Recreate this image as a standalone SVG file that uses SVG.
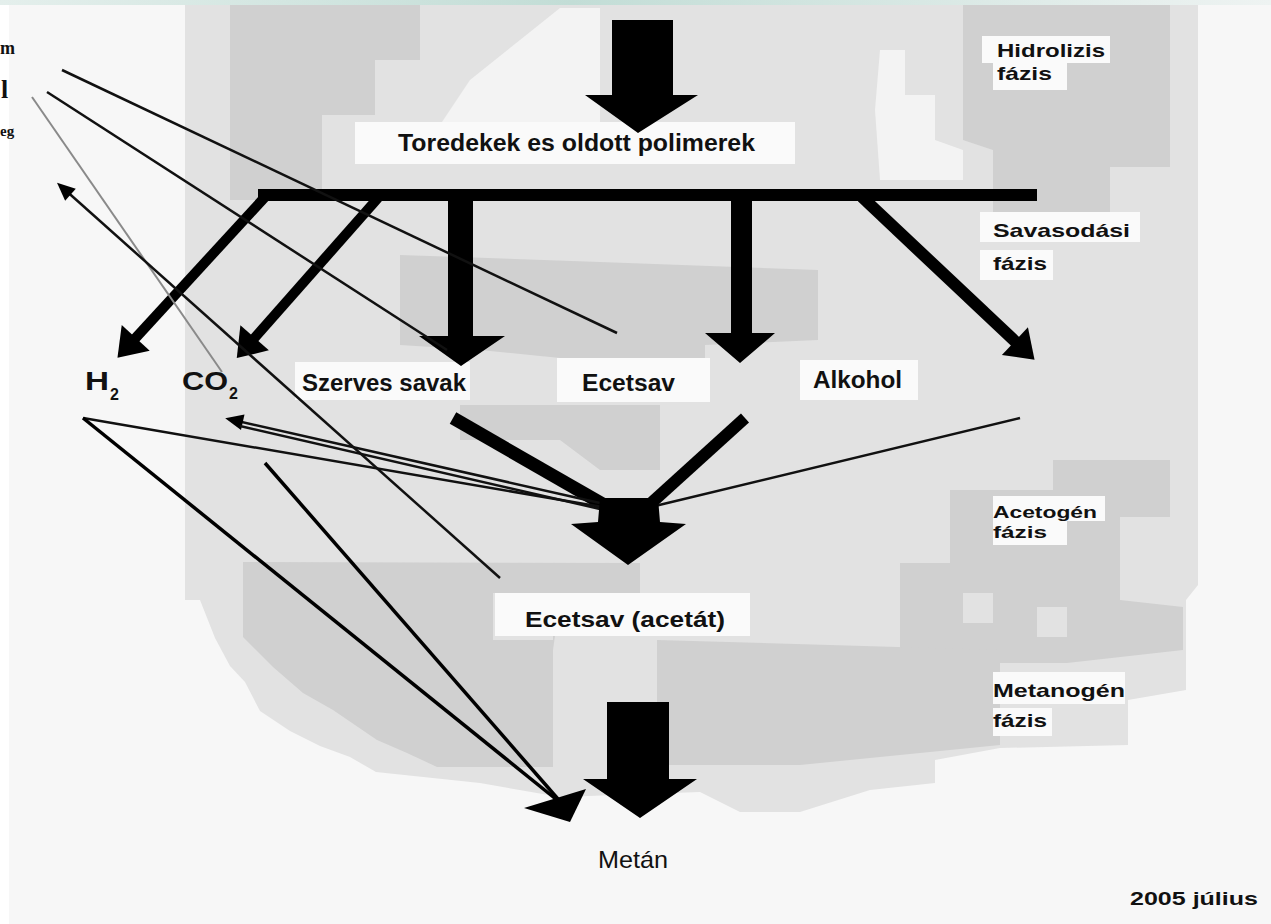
<svg xmlns="http://www.w3.org/2000/svg" width="1271" height="924" viewBox="0 0 1271 924">
<defs>
<linearGradient id="topband" x1="0" y1="0" x2="1" y2="0">
<stop offset="0" stop-color="#e4efec"/>
<stop offset="0.45" stop-color="#c2ddd6"/>
<stop offset="1" stop-color="#eef3f2"/>
</linearGradient>
<marker id="bigHead" markerUnits="userSpaceOnUse" viewBox="-28 -20 30 40" markerWidth="30" markerHeight="40" refX="-20" refY="0" orient="auto">
<path d="M-27,-19 L0,0 L-27,19 Z" fill="#000"/>
</marker>
<marker id="thinHead" markerUnits="userSpaceOnUse" viewBox="-20 -10 22 20" markerWidth="22" markerHeight="20" refX="-8" refY="0" orient="auto">
<path d="M-18,-8 L0,0 L-18,8 Z" fill="#000"/>
</marker>
</defs>
<style>
.lbl{font-family:"Liberation Sans",Arial,sans-serif;font-weight:bold;fill:#111}
.ph{font-family:"Liberation Sans",Arial,sans-serif;font-weight:bold;font-size:19px;fill:#111}
.ph2{font-family:"Liberation Sans",Arial,sans-serif;font-weight:bold;font-size:16px;fill:#111}
.edge{font-family:"Liberation Serif","Times New Roman",serif;font-weight:bold;fill:#111}
.box{fill:#fafafa}
.thin{stroke:#111;stroke-width:2.5;fill:none}
.thick{stroke:#000;fill:none}
.blk{fill:#000}
.g1{fill:#e2e2e2}
.g2{fill:#d0d0d0}
.g0{fill:#f3f3f3}
</style>

<g id="background">
<rect x="0" y="0" width="1271" height="924" fill="#f7f7f7"/>
<rect x="0" y="0" width="9" height="924" fill="#ffffff"/>
<rect x="0" y="0" width="1271" height="5" fill="url(#topband)"/>
<polygon class="g1" points="185,5 1198,5 1198,585 1186,600 1186,690 1128,700 1128,745 1000,748 935,760 935,783 870,790 800,812 740,812 700,792 560,797 480,783 376,772 350,757 320,746 290,731 260,711 245,682 230,666 215,638 200,600 185,600"/>
<polygon class="g0" points="440,125 470,80 520,40 560,8 600,8 600,125"/>
<polygon class="g0" points="880,50 905,50 905,95 935,95 935,140 963,150 963,180 880,180 875,110"/>
<polygon class="g2" points="230,5 420,5 420,60 375,60 375,115 322,115 322,200 230,200"/>
<polygon class="g2" points="963,5 1170,5 1170,167 1110,167 1110,212 993,212 993,150 963,140"/>
<polygon class="g2" points="400,255 600,262 818,270 818,340 705,345 705,360 560,358 480,350 400,345"/>
<polygon class="g2" points="460,405 660,405 660,470 600,470 560,440 460,440"/>
<polygon class="g2" points="950,490 1053,490 1053,460 1170,460 1170,517 1120,517 1120,600 1183,607 1183,650 1067,663 1000,663 900,650 900,563 950,563"/>
<rect class="g1" x="963" y="593" width="30" height="30"/>
<rect class="g1" x="1037" y="607" width="30" height="30"/>
<polygon class="g2" points="243,562 640,563 640,593 560,600 553,650 553,767 437,767 407,753 377,740 333,710 303,693 273,667 243,637"/>
<polygon class="g1" points="493,593 553,593 553,640 493,640"/>
<polygon class="g2" points="657,640 1000,650 1000,745 800,765 657,765"/>
<polygon class="g1" points="553,650 657,650 657,697 553,697"/>
</g>

<g id="edge-text">
<text class="edge" x="0" y="54" font-size="18">m</text>
<text class="edge" x="1" y="98" font-size="26">l</text>
<text class="edge" x="0" y="136" font-size="15">eg</text>
</g>

<g id="node-toredekek">
<rect class="box" x="355" y="122" width="440" height="42"/>
<text class="lbl" x="398" y="151" font-size="23" textLength="357" lengthAdjust="spacingAndGlyphs">Toredekek es oldott polimerek</text>
</g>
<g id="node-h2">
<text class="lbl" x="85" y="390" font-size="26" textLength="24" lengthAdjust="spacingAndGlyphs">H</text>
<text class="lbl" x="110" y="400" font-size="16">2</text>
</g>
<g id="node-co2">
<text class="lbl" x="182" y="390" font-size="26" textLength="46" lengthAdjust="spacingAndGlyphs">CO</text>
<text class="lbl" x="229" y="399" font-size="16">2</text>
</g>
<g id="node-szerves">
<rect class="box" x="295" y="362" width="175" height="38"/>
<text class="lbl" x="302" y="391" font-size="23" textLength="164" lengthAdjust="spacingAndGlyphs">Szerves savak</text>
</g>
<g id="node-ecetsav">
<rect class="box" x="557" y="358" width="153" height="44"/>
<text class="lbl" x="582" y="391" font-size="23" textLength="93" lengthAdjust="spacingAndGlyphs">Ecetsav</text>
</g>
<g id="node-alkohol">
<rect class="box" x="800" y="360" width="118" height="40"/>
<text class="lbl" x="813" y="388" font-size="23" textLength="89" lengthAdjust="spacingAndGlyphs">Alkohol</text>
</g>
<g id="node-acetat">
<rect class="box" x="495" y="593" width="255" height="43"/>
<text class="lbl" x="525" y="627" font-size="22" textLength="200" lengthAdjust="spacingAndGlyphs">Ecetsav (acetát)</text>
</g>
<g id="node-metan">
<text x="598" y="868" font-family="Liberation Sans, Arial, sans-serif" font-size="24" fill="#111" textLength="70" lengthAdjust="spacingAndGlyphs">Metán</text>
</g>

<g id="phase-hidrolizis">
<rect class="box" x="982" y="36" width="128" height="27"/>
<rect class="box" x="993" y="63" width="74" height="27"/>
<text class="ph" x="997" y="57" textLength="108" lengthAdjust="spacingAndGlyphs">Hidrolizis</text>
<text class="ph" x="997" y="80" textLength="55" lengthAdjust="spacingAndGlyphs">fázis</text>
</g>
<g id="phase-savasodasi">
<rect class="box" x="980" y="212" width="160" height="30"/>
<rect class="box" x="980" y="250" width="73" height="30"/>
<text class="ph" x="993" y="237" textLength="137" lengthAdjust="spacingAndGlyphs">Savasodási</text>
<text class="ph" x="993" y="270" textLength="54" lengthAdjust="spacingAndGlyphs">fázis</text>
</g>
<g id="phase-acetogen">
<rect class="box" x="993" y="496" width="112" height="25"/>
<rect class="box" x="993" y="521" width="74" height="24"/>
<text class="ph2" x="993" y="518" textLength="104" lengthAdjust="spacingAndGlyphs">Acetogén</text>
<text class="ph2" x="993" y="538" textLength="54" lengthAdjust="spacingAndGlyphs">fázis</text>
</g>
<g id="phase-metanogen">
<rect class="box" x="993" y="672" width="132" height="32"/>
<rect class="box" x="993" y="708" width="59" height="28"/>
<text class="ph" x="993" y="697" textLength="132" lengthAdjust="spacingAndGlyphs">Metanogén</text>
<text class="ph" x="993" y="727" textLength="54" lengthAdjust="spacingAndGlyphs">fázis</text>
</g>
<g id="date">
<text class="ph" x="1130" y="905" textLength="128" lengthAdjust="spacingAndGlyphs">2005 július</text>
</g>

<g id="connectors">
<polygon class="blk" points="612,20 673,20 673,95 698,95 638,133 585,95 612,95"/>
<rect class="blk" x="258" y="189" width="779" height="12"/>
<line class="thick" x1="265" y1="197" x2="131" y2="343" stroke-width="10" marker-end="url(#bigHead)"/>
<line class="thick" x1="378" y1="198" x2="250" y2="343" stroke-width="10" marker-end="url(#bigHead)"/>
<polygon class="blk" points="448,195 473,195 473,336 505,336 461,366 419,336 448,336"/>
<polygon class="blk" points="731,195 752,195 752,333 775,333 740,363 705,333 731,333"/>
<line class="thick" x1="862" y1="197" x2="1020" y2="346" stroke-width="12" marker-end="url(#bigHead)"/>
<line class="thick" x1="453" y1="418" x2="606" y2="506" stroke-width="13"/>
<line class="thick" x1="745" y1="418" x2="648" y2="506" stroke-width="12"/>
<line class="thin" x1="1020" y1="418" x2="655" y2="506"/>
<line class="thin" x1="83" y1="418" x2="602" y2="507"/>
<line class="thin" x1="600" y1="503" x2="233" y2="420" marker-end="url(#thinHead)"/>
<line class="thin" x1="240" y1="426" x2="600" y2="509" stroke-width="2"/>
<polygon class="blk" points="600,498 658,498 660,522 686,524 628,565 571,524 598,522"/>
<line class="thick" x1="83" y1="418" x2="557" y2="800" stroke-width="3.5"/>
<line class="thick" x1="265" y1="463" x2="558" y2="799" stroke-width="3.5"/>
<polygon class="blk" points="524,808 586,789 570,822"/>
<polygon class="blk" points="607,702 669,702 669,779 697,779 640,818 583,779 607,779"/>
<line class="thin" x1="62" y1="70" x2="617" y2="333"/>
<line class="thin" x1="47" y1="92" x2="447" y2="350"/>
<line x1="32" y1="97" x2="222" y2="372" stroke="#8a8a8a" stroke-width="2"/>
<line class="thin" x1="500" y1="578" x2="63" y2="188" marker-end="url(#thinHead)"/>
</g>
</svg>
